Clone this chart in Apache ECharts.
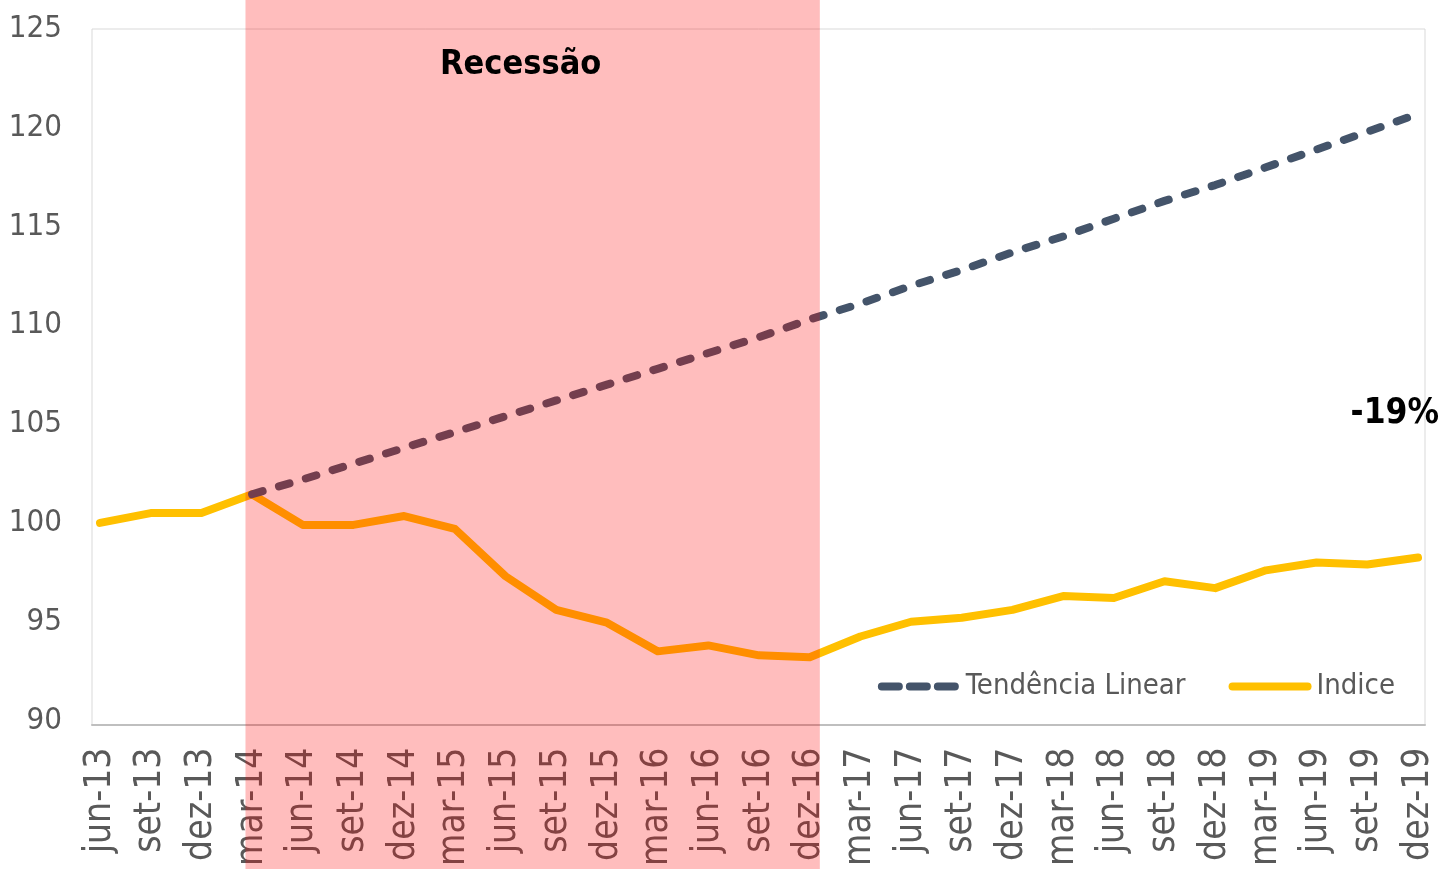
<!DOCTYPE html>
<html>
<head>
<meta charset="utf-8">
<script src="https://cdn.jsdelivr.net/npm/echarts@6/dist/echarts.min.js"></script>
<style>
  html, body { margin: 0; padding: 0; background: #fff; }
  #main { width: 1441px; height: 869px; }
</style>
</head>
<body>
<div id="main"></div>
<script>
// trimestres
const categorias = ['jun-13', 'set-13', 'dez-13', 'mar-14', 'jun-14', 'set-14', 'dez-14',
  'mar-15', 'jun-15', 'set-15', 'dez-15', 'mar-16', 'jun-16', 'set-16', 'dez-16',
  'mar-17', 'jun-17', 'set-17', 'dez-17', 'mar-18', 'jun-18', 'set-18', 'dez-18',
  'mar-19', 'jun-19', 'set-19', 'dez-19'];

// indice (base jun-13 = 100)
const indice = [100.0, 100.5, 100.5, 101.45, 99.9, 99.9, 100.35, 99.7, 97.3, 95.6,
  94.95, 93.5, 93.8, 93.3, 93.2, 94.25, 95.0, 95.2, 95.6, 96.3, 96.2, 97.05, 96.7,
  97.6, 98.0, 97.9, 98.25];

// tendencia linear a partir de mar-14
const tendencia = [null, null, null, 101.45, 102.2, 103.0, 103.8, 104.6, 105.4, 106.2,
  107.0, 107.8, 108.6, 109.4, 110.3, 111.1, 112.0, 112.8, 113.7, 114.5, 115.4, 116.3,
  117.1, 118.0, 118.9, 119.8, 120.7];

const recessao = ['mar-14', 'dez-16'];
const textoRecessao = 'Recessão';
const textoQueda = '-19%';

const fonte = '"Liberation Sans Narrow", "DejaVu Sans Condensed", "Liberation Sans", sans-serif';
const corTexto = '#595959';

const chart = echarts.init(document.getElementById('main'));

const option = {
  animation: false,
  textStyle: { fontFamily: fonte },
  grid: [
    { left: 100, right: 23, top: 29, bottom: 144, show: false },
    // moldura da area do grafico
    { left: 92, right: 16, top: 29, bottom: 144, show: true, borderColor: '#D9D9D9', borderWidth: 1 }
  ],
  legend: {
    right: 41,
    top: 667,
    itemWidth: 75,
    itemHeight: 8,
    itemGap: 43,
    itemStyle: { opacity: 0 },
    lineStyle: { width: 8, cap: 'round' },
    textStyle: { fontSize: 29, color: corTexto, fontFamily: fonte, padding: [0, 0, 0, 4] },
    data: [
      { name: 'Tendência Linear', lineStyle: { type: [17, 11] } },
      { name: 'Indice' }
    ]
  },
  xAxis: [
    {
      type: 'category',
      gridIndex: 0,
      data: categorias,
      boundaryGap: false,
      axisLine: { show: false },
      axisTick: { show: false },
      axisLabel: {
        rotate: 90,
        interval: 0,
        margin: 27,
        fontSize: 37,
        color: corTexto,
        fontFamily: fonte
      }
    },
    {
      type: 'value',
      gridIndex: 1,
      axisLine: { show: true, lineStyle: { color: '#BFBFBF', width: 2 } },
      axisTick: { show: false },
      axisLabel: { show: false },
      splitLine: { show: false }
    }
  ],
  yAxis: [
    {
      type: 'value',
      gridIndex: 0,
      min: 90,
      max: 125,
      interval: 5,
      axisLine: { show: false },
      axisTick: { show: false },
      splitLine: { show: false },
      axisLabel: { margin: 38, fontSize: 31, color: corTexto, fontFamily: fonte }
    },
    { type: 'value', gridIndex: 1, show: false }
  ],
  series: [
    {
      name: 'Tendência Linear',
      type: 'line',
      data: tendencia,
      symbol: 'none',
      z: 3,
      lineStyle: { color: '#44546A', width: 8, type: [11, 17], cap: 'round' },
      itemStyle: { color: '#44546A' }
    },
    {
      name: 'Indice',
      type: 'line',
      data: indice,
      symbol: 'none',
      z: 2,
      lineStyle: { color: '#FFC000', width: 8, cap: 'round', join: 'round' },
      itemStyle: { color: '#FFC000' }
    }
  ]
};

chart.setOption(option);

// faixa da recessao e textos, posicionados pelas escalas do grafico
const xa = chart.convertToPixel({ xAxisIndex: 0 }, recessao[0]);
const xb = chart.convertToPixel({ xAxisIndex: 0 }, recessao[1]);
const passo = chart.convertToPixel({ xAxisIndex: 0 }, categorias[1]) - chart.convertToPixel({ xAxisIndex: 0 }, categorias[0]);
const xIni = xa - passo * 0.13;
const xFim = xb + passo * 0.2;
const yTitulo = chart.convertToPixel({ yAxisIndex: 0 }, 123.15);
const xUlt = chart.convertToPixel({ xAxisIndex: 0 }, categorias[categorias.length - 1]);
const yQueda = chart.convertToPixel({ yAxisIndex: 0 }, 105.5);

chart.setOption({
  graphic: [
    {
      type: 'rect',
      z: 50,
      silent: true,
      shape: { x: xIni, y: 0, width: xFim - xIni, height: chart.getHeight() },
      style: { fill: 'rgba(255, 0, 0, 0.26)' }
    },
    {
      type: 'text',
      z: 60,
      x: (xIni + xFim) / 2 - 12,
      y: yTitulo,
      style: {
        text: textoRecessao,
        fill: '#000',
        font: 'bold 34px ' + fonte,
        textAlign: 'center',
        textVerticalAlign: 'middle'
      }
    },
    {
      type: 'text',
      z: 60,
      x: xUlt + 21,
      y: yQueda,
      style: {
        text: textoQueda,
        fill: '#000',
        font: 'bold 35px ' + fonte,
        textAlign: 'right',
        textVerticalAlign: 'middle'
      }
    }
  ]
});
</script>
</body>
</html>
